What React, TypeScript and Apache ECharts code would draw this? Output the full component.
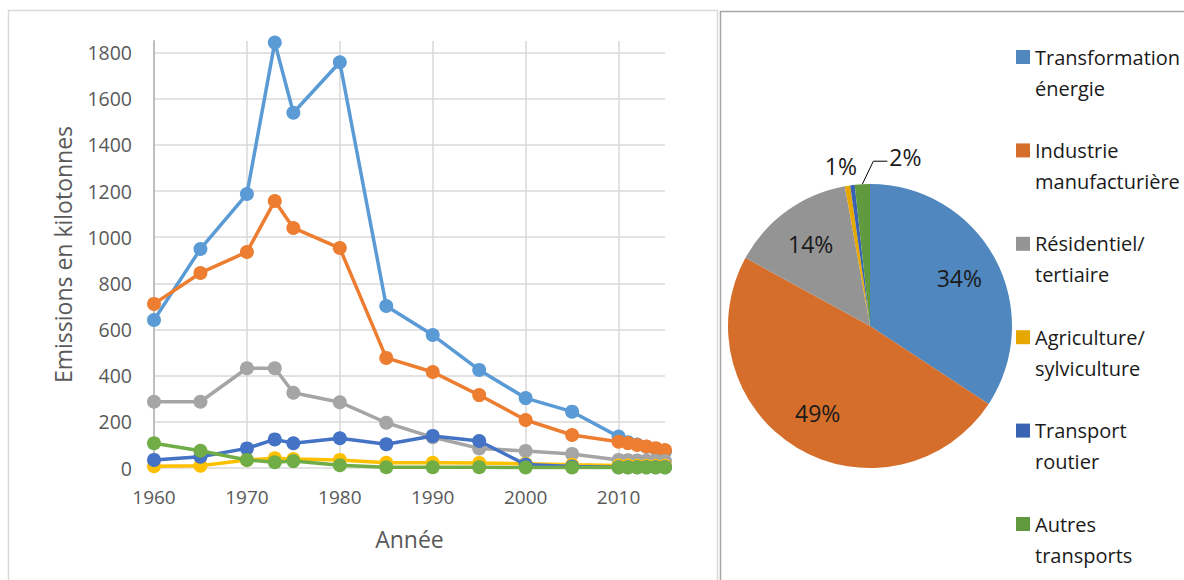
import { useEffect, useRef } from "react";
import * as echarts from "echarts";

const years = [1960, 1965, 1970, 1973, 1975, 1980, 1985, 1990, 1995, 2000, 2005, 2010, 2011, 2012, 2013, 2014, 2015];
const seriesNames = [
  "Transformation énergie",
  "Industrie manufacturière",
  "Résidentiel/ tertiaire",
  "Agriculture/ sylviculture",
  "Transport routier",
  "Autres transports",
];
const legendLines = [
  ["Transformation", "énergie"],
  ["Industrie", "manufacturière"],
  ["Résidentiel/", "tertiaire"],
  ["Agriculture/", "sylviculture"],
  ["Transport", "routier"],
  ["Autres", "transports"],
];
const transformation = [641, 949, 1187, 1843, 1539, 1758, 702, 576, 425, 303, 244, 136, 112, 102, 92, 82, 72];
const industrie = [711, 845, 936, 1157, 1040, 953, 477, 416, 316, 208, 143, 114, 108, 100, 93, 86, 78];
const residentiel = [287, 287, 432, 432, 326, 285, 196, 133, 85, 74, 61, 35, 34, 33, 32, 31, 30];
const agriculture = [8, 10, 35, 42, 39, 35, 23, 23, 22, 18, 14, 11, 11, 10, 10, 10, 10];
const transportRoutier = [35, 49, 85, 124, 107, 129, 103, 139, 117, 15, 6, 3, 3, 3, 3, 3, 3];
const autresTransports = [107, 75, 35, 25, 30, 12, 3, 3, 3, 2, 2, 2, 2, 2, 2, 2, 2];
const lineValues = [transformation, industrie, residentiel, agriculture, transportRoutier, autresTransports];
const pieValues = [34.25, 48.72, 14.19, 0.61, 0.51, 1.72];

const lineColors = ["#5B9BD5", "#ED7D31", "#A5A5A5", "#FFC000", "#4472C4", "#70AD47"];
const pieColors = ["#4F87BE", "#D46E2A", "#949494", "#E5A700", "#3A62B2", "#61993F"];

const FONT = "'Open Sans', 'Noto Sans', sans-serif";
const PIE_CX = 870;
const PIE_CY = 326;
const PIE_R = 142;

const total = pieValues.reduce((a, b) => a + b, 0);
const mids: number[] = [];
{
  let acc = 0;
  for (const v of pieValues) {
    mids.push(((acc + v / 2) / total) * 2 * Math.PI);
    acc += v;
  }
}
const pt = (ang: number, r: number) => [PIE_CX + r * Math.sin(ang), PIE_CY - r * Math.cos(ang)];

export default function App() {
  const ref = useRef<HTMLDivElement>(null);
  useEffect(() => {
    if (!ref.current) return;
    const chart = echarts.init(ref.current, null, { renderer: "svg" });

    const graphics: any[] = [
      {
        type: "rect",
        shape: { x: 8.5, y: 10.5, width: 709, height: 600 },
        style: { fill: "none", stroke: "#D9D9D9", lineWidth: 1.5 },
        silent: true,
      },
      {
        type: "rect",
        shape: { x: 720.5, y: 11.5, width: 500, height: 600 },
        style: { fill: "none", stroke: "#A6A6A6", lineWidth: 1.5 },
        silent: true,
      },
    ];
    legendLines.forEach((lines, i) => {
      const y0 = 57 + i * 93.4;
      graphics.push({
        type: "rect",
        shape: { x: 1016, y: y0 - 7, width: 14, height: 14 },
        style: { fill: pieColors[i] },
        silent: true,
      });
      graphics.push({
        type: "text",
        x: 1035,
        y: y0 - 15.5,
        style: {
          text: lines.join("\n"),
          fill: "#1A1A1A",
          fontSize: 20,
          fontFamily: FONT,
          lineHeight: 31,
          verticalAlign: "top",
          align: "left",
        },
        silent: true,
      });
    });

    const option: any = {
      animation: false,
      graphic: graphics,
      grid: { left: 154, right: 519, top: 41, bottom: 112, containLabel: false },
      xAxis: {
        type: "value",
        min: 1960,
        max: 2015,
        interval: 10,
        name: "Année",
        nameLocation: "middle",
        nameGap: 59,
        nameTextStyle: { color: "#595959", fontSize: 23, fontFamily: FONT },
        axisLine: { show: true, lineStyle: { color: "#D9D9D9", width: 1.5 } },
        axisTick: { show: false },
        axisLabel: {
          color: "#595959",
          fontSize: 19,
          fontFamily: FONT,
          margin: 19,
          showMaxLabel: false,
          formatter: (v: number) => String(v),
        },
        splitLine: {
          show: true,
          showMinLine: false,
          showMaxLine: false,
          lineStyle: { color: "#D9D9D9", width: 1.5 },
        },
      },
      yAxis: {
        type: "value",
        min: 0,
        max: 1850,
        interval: 200,
        name: "Emissions en kilotonnes",
        nameLocation: "middle",
        nameGap: 80,
        nameRotate: 90,
        nameTextStyle: { color: "#595959", fontSize: 23, fontFamily: FONT },
        axisLine: { show: true, lineStyle: { color: "#BFBFBF", width: 2 } },
        axisTick: { show: false },
        axisLabel: {
          color: "#595959",
          fontSize: 19.5,
          fontFamily: FONT,
          margin: 22,
          showMaxLabel: false,
          formatter: (v: number) => String(v),
        },
        splitLine: {
          show: true,
          showMinLine: false,
          showMaxLine: false,
          lineStyle: { color: "#D9D9D9", width: 1.5 },
        },
      },
      series: [
        ...seriesNames.map((name, si) => ({
          type: "line",
          name,
          data: years.map((yr, k) => [yr, lineValues[si][k]]),
          symbol: "circle",
          symbolSize: 14,
          showSymbol: true,
          lineStyle: { color: lineColors[si], width: 3.5 },
          itemStyle: { color: lineColors[si] },
          emphasis: { disabled: true },
          silent: true,
          z: 2 + si,
        })),
        {
          type: "pie",
          center: [PIE_CX, PIE_CY],
          radius: PIE_R,
          startAngle: 90,
          clockwise: true,
          silent: true,
          emphasis: { disabled: true },
          avoidLabelOverlap: false,
          label: {
            show: true,
            position: "inside",
            color: "#1A1A1A",
            fontSize: 23,
            fontFamily: FONT,
            formatter: (p: any) => Math.round(p.percent) + "%",
          },
          labelLine: { show: false },
          labelLayout: (p: any) => {
            const i = p.dataIndex;
            if (i <= 2) {
              const c = pt(mids[i], PIE_R * 0.715);
              return { x: c[0], y: c[1], align: "center", verticalAlign: "middle" };
            }
            if (i === 3) {
              const c = pt(mids[i] - 0.02, PIE_R + 21);
              return { x: c[0], y: c[1], align: "center", verticalAlign: "middle" };
            }
            if (i === 5) {
              const p1 = pt(mids[i], PIE_R);
              const p2 = [p1[0] + 11, p1[1] - 23];
              const p3 = [p2[0] + 14, p2[1]];
              return {
                x: p3[0] + 2,
                y: p3[1] - 4,
                align: "left",
                verticalAlign: "middle",
                labelLinePoints: [p1, p2, p3],
              };
            }
            return {};
          },
          data: seriesNames.map((name, i) => {
            const item: any = { name, value: pieValues[i], itemStyle: { color: pieColors[i] } };
            if (i === 3) item.label = { position: "outside" };
            if (i === 4) item.label = { show: false };
            if (i === 5) {
              item.label = { position: "outside" };
              item.labelLine = { show: true, length: 20, length2: 14, lineStyle: { color: "#000", width: 1 } };
            }
            return item;
          }),
        },
      ],
    };
    chart.setOption(option);
    return () => chart.dispose();
  }, []);
  return (
    <div
      ref={ref}
      style={{ position: "absolute", left: 0, top: 0, width: 1184, height: 580, background: "#fff" }}
    />
  );
}
